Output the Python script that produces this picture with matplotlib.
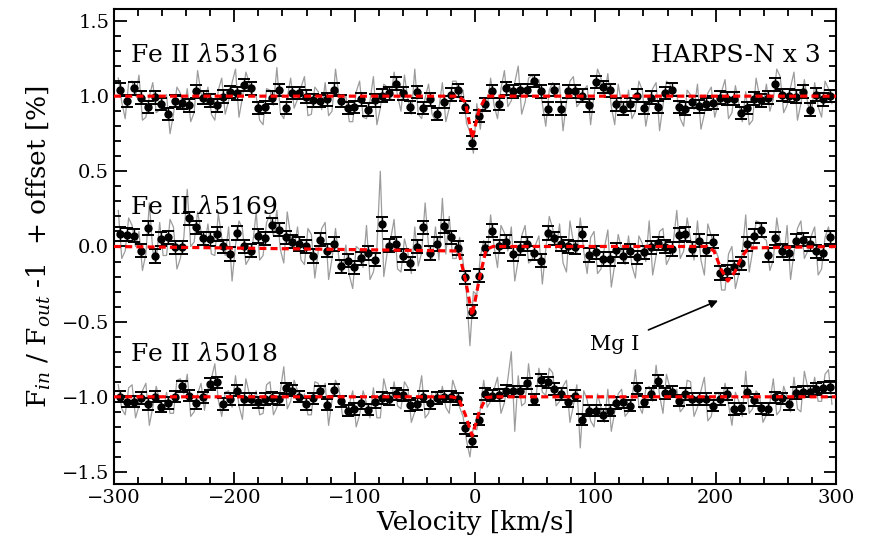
import numpy as np
import matplotlib
matplotlib.use("Agg")
import matplotlib.pyplot as plt
from matplotlib.ticker import MultipleLocator

plt.rcParams['font.family'] = 'DejaVu Serif'
plt.rcParams['mathtext.fontset'] = 'dejavuserif'

# binned velocity grid (km/s), 104 bins
vel = np.linspace(-295.0, 295.2, 104)
half = 1.44  # unbinned samples sit either side of each bin centre

lines = ['Fe II $\\lambda$5316', 'Fe II $\\lambda$5169', 'Fe II $\\lambda$5018']
offsets = [1.0, 0.0, -1.0]
errs = [0.042, 0.045, 0.037]

# binned transmission (F_in/F_out - 1, %)
bin_5316 = [0.044, -0.033, 0.051, -0.011, -0.073, -0.007, -0.051, -0.118, -0.033, -0.044,
            -0.062, 0.033, -0.011, -0.029, -0.062, -0.004, 0.027, 0.018, 0.075, 0.051,
            -0.078, -0.073, -0.011, 0.040, -0.078, 0.022, 0.022, -0.004, -0.027, -0.033,
            -0.022, 0.044, -0.033, -0.078, -0.071, -0.022, -0.089, -0.027, 0.004, 0.018,
            0.084, 0.018, -0.071, 0.027, -0.078, -0.022, -0.118, -0.040, 0.011, 0.038,
            -0.071, -0.310, -0.133, -0.055, 0.033, -0.051, 0.051, 0.033, 0.040, 0.040,
            0.100, 0.033, -0.084, 0.040, -0.084, 0.033, 0.033, 0.004, -0.062, 0.095,
            0.062, 0.038, -0.055, -0.084, -0.055, 0.004, -0.078, -0.011, -0.071, 0.022,
            0.044, -0.073, -0.084, -0.038, -0.067, -0.051, -0.044, -0.011, -0.016, -0.016,
            -0.111, -0.078, -0.016, -0.027, -0.011, 0.078, 0.007, 0.004, -0.004, 0.029,
            -0.089, 0.011, -0.022, 0.000]
bin_5169 = [0.083, 0.079, 0.072, -0.028, 0.123, -0.065, 0.050, 0.061, -0.006, -0.006,
            0.187, 0.127, 0.054, 0.050, 0.083, 0.000, -0.050, 0.090, 0.000, -0.028,
            0.068, 0.054, 0.143, 0.112, 0.061, 0.032, 0.017, 0.000, -0.065, 0.045,
            -0.028, 0.017, -0.132, -0.094, -0.139, -0.079, -0.043, -0.088, 0.150, 0.006,
            0.017, -0.061, -0.112, -0.001, 0.127, -0.043, 0.017, 0.134, 0.061, -0.010,
            -0.205, -0.433, -0.194, -0.012, 0.105, 0.001, 0.032, -0.050, -0.012, 0.017,
            -0.043, -0.094, 0.090, 0.054, 0.017, 0.001, -0.006, 0.083, -0.057, -0.039,
            -0.083, -0.083, -0.023, -0.065, -0.028, -0.072, -0.039, -0.006, 0.021, -0.001,
            -0.017, 0.076, 0.083, -0.017, 0.039, -0.021, 0.032, -0.176, -0.165, -0.139,
            -0.112, 0.017, 0.068, 0.110, -0.057, 0.054, -0.028, -0.043, 0.039, 0.045,
            0.017, -0.032, -0.043, 0.061]
bin_5018 = [0.000, -0.032, -0.032, -0.008, -0.048, 0.000, -0.065, -0.041, 0.000, 0.070,
            0.008, -0.041, -0.004, 0.085, 0.096, -0.048, -0.015, 0.041, -0.015, -0.015,
            -0.037, -0.015, -0.008, -0.015, 0.056, 0.041, 0.000, -0.048, -0.010, 0.036,
            -0.054, 0.045, -0.030, -0.092, -0.081, -0.041, -0.086, -0.037, -0.008, -0.015,
            0.019, 0.010, -0.055, -0.048, 0.001, -0.041, -0.008, 0.001, 0.001, -0.015,
            -0.208, -0.296, -0.152, 0.019, 0.008, 0.012, 0.041, 0.036, 0.036, 0.089,
            -0.019, 0.112, 0.096, 0.052, 0.019, -0.032, 0.008, -0.152, -0.092, -0.092,
            -0.121, -0.092, -0.041, -0.037, -0.059, 0.056, -0.032, 0.019, 0.107, 0.023,
            0.034, -0.026, 0.019, -0.015, -0.015, -0.015, -0.059, -0.015, 0.019, -0.081,
            -0.077, 0.034, -0.021, -0.077, -0.081, -0.004, -0.010, -0.048, 0.025, 0.034,
            0.034, 0.052, 0.060, 0.065]

# unbinned transmission, two samples per bin
raw_5316 = [0.12, -0.04, -0.15, 0.09, 0.10, 0.00, 0.14, -0.16, -0.14, 0.00, 0.09, -0.11, -0.09, -0.01,
            0.01, -0.25, -0.12, 0.06, 0.02, -0.10, 0.05, -0.17, -0.11, 0.17, 0.02, -0.04, 0.06, -0.12,
            -0.16, 0.04, 0.12, -0.12, -0.03, 0.09, 0.18, -0.14, -0.01, 0.16, 0.09, 0.01, 0.00, -0.16,
            -0.19, 0.05, 0.04, -0.06, 0.19, -0.11, -0.15, -0.01, 0.12, -0.08, -0.02, 0.06, 0.13, -0.13,
            -0.12, 0.06, 0.03, -0.09, 0.09, -0.13, -0.10, 0.18, 0.00, -0.06, 0.01, -0.17, -0.17, 0.03,
            0.10, -0.14, -0.15, -0.03, 0.13, -0.19, -0.08, 0.08, 0.06, -0.02, 0.16, 0.00, -0.10, 0.14,
            -0.02, -0.12, 0.18, -0.12, -0.15, -0.01, 0.08, -0.12, -0.16, -0.08, 0.09, -0.17, -0.08, 0.10,
            0.10, -0.02, 0.04, -0.18, -0.24, -0.38, -0.05, -0.22, -0.03, -0.08, 0.12, -0.06, -0.15, 0.05,
            0.17, -0.07, -0.03, 0.09, 0.20, -0.12, -0.04, 0.12, 0.14, 0.06, 0.11, -0.05, -0.20, 0.04,
            0.09, -0.01, 0.07, -0.23, -0.04, 0.10, 0.13, -0.07, -0.04, 0.04, 0.07, -0.19, 0.01, 0.18,
            0.12, 0.00, 0.15, -0.07, -0.19, 0.08, -0.05, -0.11, 0.04, -0.15, -0.10, 0.10, 0.04, -0.20,
            -0.07, 0.05, 0.09, -0.23, -0.06, 0.10, 0.08, 0.00, 0.01, -0.15, -0.20, 0.04, 0.01, -0.09,
            0.08, -0.22, -0.12, 0.02, 0.06, -0.14, -0.05, 0.03, 0.11, -0.15, -0.11, 0.07, -0.05, -0.17,
            0.03, -0.19, -0.16, 0.12, 0.00, -0.06, 0.08, -0.10, -0.02, 0.18, 0.13, -0.11, -0.06, 0.06,
            0.16, -0.16, -0.05, 0.11, -0.05, -0.13, 0.09, -0.07, -0.14, 0.10, 0.05, -0.05]
raw_5169 = [0.24, -0.08, -0.03, 0.19, 0.14, 0.00, 0.10, -0.16, -0.05, 0.29, -0.03, -0.10, 0.16, -0.06,
            -0.06, 0.18, 0.13, -0.15, -0.08, 0.06, 0.38, 0.00, 0.03, 0.23, 0.10, 0.00, 0.15, -0.05,
            -0.06, 0.22, 0.06, -0.06, 0.13, -0.23, 0.01, 0.17, 0.12, -0.12, -0.08, 0.02, 0.23, -0.09,
            -0.06, 0.16, 0.21, 0.07, 0.24, -0.02, -0.11, 0.23, 0.07, -0.01, 0.13, -0.09, -0.12, 0.12,
            0.08, -0.21, -0.03, 0.12, 0.16, -0.22, -0.08, 0.12, -0.08, -0.18, 0.01, -0.19, -0.28, 0.00,
            -0.02, -0.14, 0.14, -0.22, -0.17, -0.01, 0.50, -0.20, -0.04, 0.05, 0.18, -0.15, -0.17, 0.05,
            -0.04, -0.18, 0.13, -0.13, -0.04, 0.29, 0.00, -0.08, 0.13, -0.09, 0.32, -0.05, 0.20, -0.08,
            -0.08, 0.06, -0.10, -0.31, -0.66, -0.30, -0.32, -0.07, 0.04, -0.06, 0.21, 0.00, -0.14, 0.14,
            0.09, -0.03, 0.13, -0.23, -0.09, 0.07, 0.14, -0.11, -0.09, 0.01, 0.07, -0.25, -0.02, 0.20,
            0.12, -0.02, 0.15, -0.11, -0.17, 0.17, 0.03, -0.05, 0.19, -0.03, -0.18, 0.06, 0.10, -0.18,
            -0.15, -0.01, 0.11, -0.27, -0.12, 0.08, -0.02, -0.12, 0.07, -0.13, -0.21, 0.07, 0.02, -0.10,
            0.17, -0.19, -0.06, 0.10, 0.12, -0.12, -0.07, 0.03, 0.24, -0.08, -0.03, 0.19, 0.05, -0.09,
            0.17, -0.09, -0.19, 0.15, 0.07, -0.01, -0.07, -0.29, -0.29, -0.05, 0.00, -0.28, -0.18, -0.04,
            0.21, -0.17, -0.03, 0.17, 0.16, 0.06, 0.04, -0.16, -0.09, 0.19, 0.03, -0.09, 0.14, -0.22,
            -0.04, 0.12, 0.17, -0.08, -0.03, 0.07, 0.13, -0.19, -0.15, 0.06, 0.13, -0.01]
raw_5018 = [0.08, -0.08, -0.12, 0.06, 0.08, -0.14, -0.06, 0.04, 0.09, -0.19, -0.07, 0.07, -0.03, -0.10,
            0.03, -0.11, -0.11, 0.11, 0.12, 0.02, 0.15, -0.13, -0.10, 0.02, 0.09, -0.09, 0.05, 0.12,
            0.22, -0.02, -0.13, 0.03, 0.04, -0.07, 0.14, -0.06, -0.15, 0.12, 0.02, -0.05, 0.04, -0.12,
            -0.11, 0.08, 0.10, -0.12, -0.07, 0.04, 0.20, -0.08, -0.03, 0.11, 0.04, -0.04, 0.02, -0.12,
            -0.12, 0.10, 0.09, -0.01, 0.09, -0.19, -0.02, 0.11, 0.06, -0.12, -0.13, -0.05, 0.04, -0.20,
            -0.12, 0.04, -0.04, -0.14, 0.06, -0.14, -0.14, 0.12, 0.02, -0.05, 0.10, -0.06, -0.08, 0.10,
            0.06, -0.17, -0.10, 0.00, 0.14, -0.14, -0.11, 0.03, 0.03, -0.05, 0.07, -0.07, -0.11, 0.11,
            0.04, -0.07, -0.13, -0.29, -0.40, -0.20, -0.22, -0.08, 0.11, -0.07, -0.03, 0.05, 0.13, -0.11,
            -0.04, 0.12, 0.30, -0.23, 0.14, -0.06, -0.04, 0.22, 0.01, -0.05, 0.19, 0.03, 0.01, 0.19,
            0.16, -0.06, -0.03, 0.07, 0.11, -0.17, -0.06, 0.08, -0.34, 0.04, -0.02, -0.16, -0.20, 0.02,
            -0.07, -0.17, 0.05, -0.23, -0.10, 0.02, 0.05, -0.13, -0.10, -0.02, 0.18, -0.06, -0.11, 0.05,
            0.07, -0.03, 0.21, 0.01, -0.11, 0.15, 0.06, 0.00, 0.05, -0.10, -0.07, 0.11, 0.10, -0.13,
            -0.07, 0.04, 0.13, -0.16, -0.13, 0.01, 0.03, -0.06, 0.09, -0.05, -0.19, 0.03, -0.03, -0.13,
            0.17, -0.11, -0.08, 0.04, 0.01, -0.17, -0.12, -0.04, 0.12, -0.12, -0.09, 0.07, 0.00, -0.10,
            0.13, -0.08, -0.10, 0.17, 0.06, 0.01, 0.13, -0.03, -0.03, 0.15, 0.18, -0.05]

# Gaussian fits, sampled on the bin grid
fit_v_5316 = [-300, -13.7, -8.0, -2.3, 3.5, 9.2, 300]
fit_y_5316 = [0.0, 0.0, -0.04, -0.28, -0.09, 0.0, 0.0]
fit_v_5169 = [-300, -13.7, -8.0, -2.3, 3.5, 9.2, 15.0, 192.9, 198.6, 204.4, 210.1, 215.9,
              221.6, 227.3, 300]
fit_y_5169 = [0.0, -0.03, -0.22, -0.46, -0.22, -0.02, 0.0, 0.0, -0.03, -0.15, -0.23, -0.17,
              -0.07, -0.01, 0.0]
fit_v_5018 = [-300, -19.5, -13.7, -8.0, -2.3, 3.5, 9.2, 15.0, 300]
fit_y_5018 = [0.0, 0.0, -0.01, -0.12, -0.26, -0.10, -0.005, 0.0, 0.0]

binned = [bin_5316, bin_5169, bin_5018]
raw = [raw_5316, raw_5169, raw_5018]
fits = [(fit_v_5316, fit_y_5316), (fit_v_5169, fit_y_5169), (fit_v_5018, fit_y_5018)]
label_y = [1.27, 0.26, -0.72]

raw_v = np.column_stack([vel - half, vel + half]).ravel()

fig = plt.figure(figsize=(8.69, 5.47), dpi=100)
ax = fig.add_axes([0.1312, 0.1152, 0.8308, 0.8684])

for off, b, r, (fv, fy), err in zip(offsets, binned, raw, fits, errs):
    ax.plot(raw_v, np.array(r) + off, color='#9c9c9c', lw=0.9, zorder=1)
    ax.errorbar(vel, np.array(b) + off, yerr=err, fmt='o', color='k', ms=5,
                elinewidth=1.0, capsize=4, capthick=1.4, zorder=2)
    ax.plot(fv, np.array(fy) + off, color='red', lw=2.3, dashes=(2.2, 1.3), zorder=3)

for name, ly in zip(lines, label_y):
    ax.text(-287, ly, name, fontsize=18, ha='left', va='center')
ax.text(287, 1.27, 'HARPS-N x 3', fontsize=18, ha='right', va='center')

ax.annotate('Mg I', xy=(202, -0.36), xytext=(116, -0.65), fontsize=15,
            ha='center', va='center',
            arrowprops=dict(arrowstyle='-|>', color='k', lw=1.2, mutation_scale=12,
                            shrinkA=5, shrinkB=0))

ax.set_xlim(-300, 300)
ax.set_ylim(-1.58, 1.58)
ax.xaxis.set_major_locator(MultipleLocator(100))
ax.xaxis.set_minor_locator(MultipleLocator(20))
ax.yaxis.set_major_locator(MultipleLocator(0.5))
ax.yaxis.set_minor_locator(MultipleLocator(0.1))
ax.tick_params(which='both', direction='in', top=True, right=True, width=1.3, labelsize=14)
ax.tick_params(which='major', length=9)
ax.tick_params(which='minor', length=5)
for sp in ax.spines.values():
    sp.set_linewidth(1.5)

ax.set_xlabel('Velocity [km/s]', fontsize=19, labelpad=2)
ax.set_ylabel('F$_{in}$ / F$_{out}$ -1  + offset [%]', fontsize=19, labelpad=6)

fig.savefig('out.png', dpi=100)
